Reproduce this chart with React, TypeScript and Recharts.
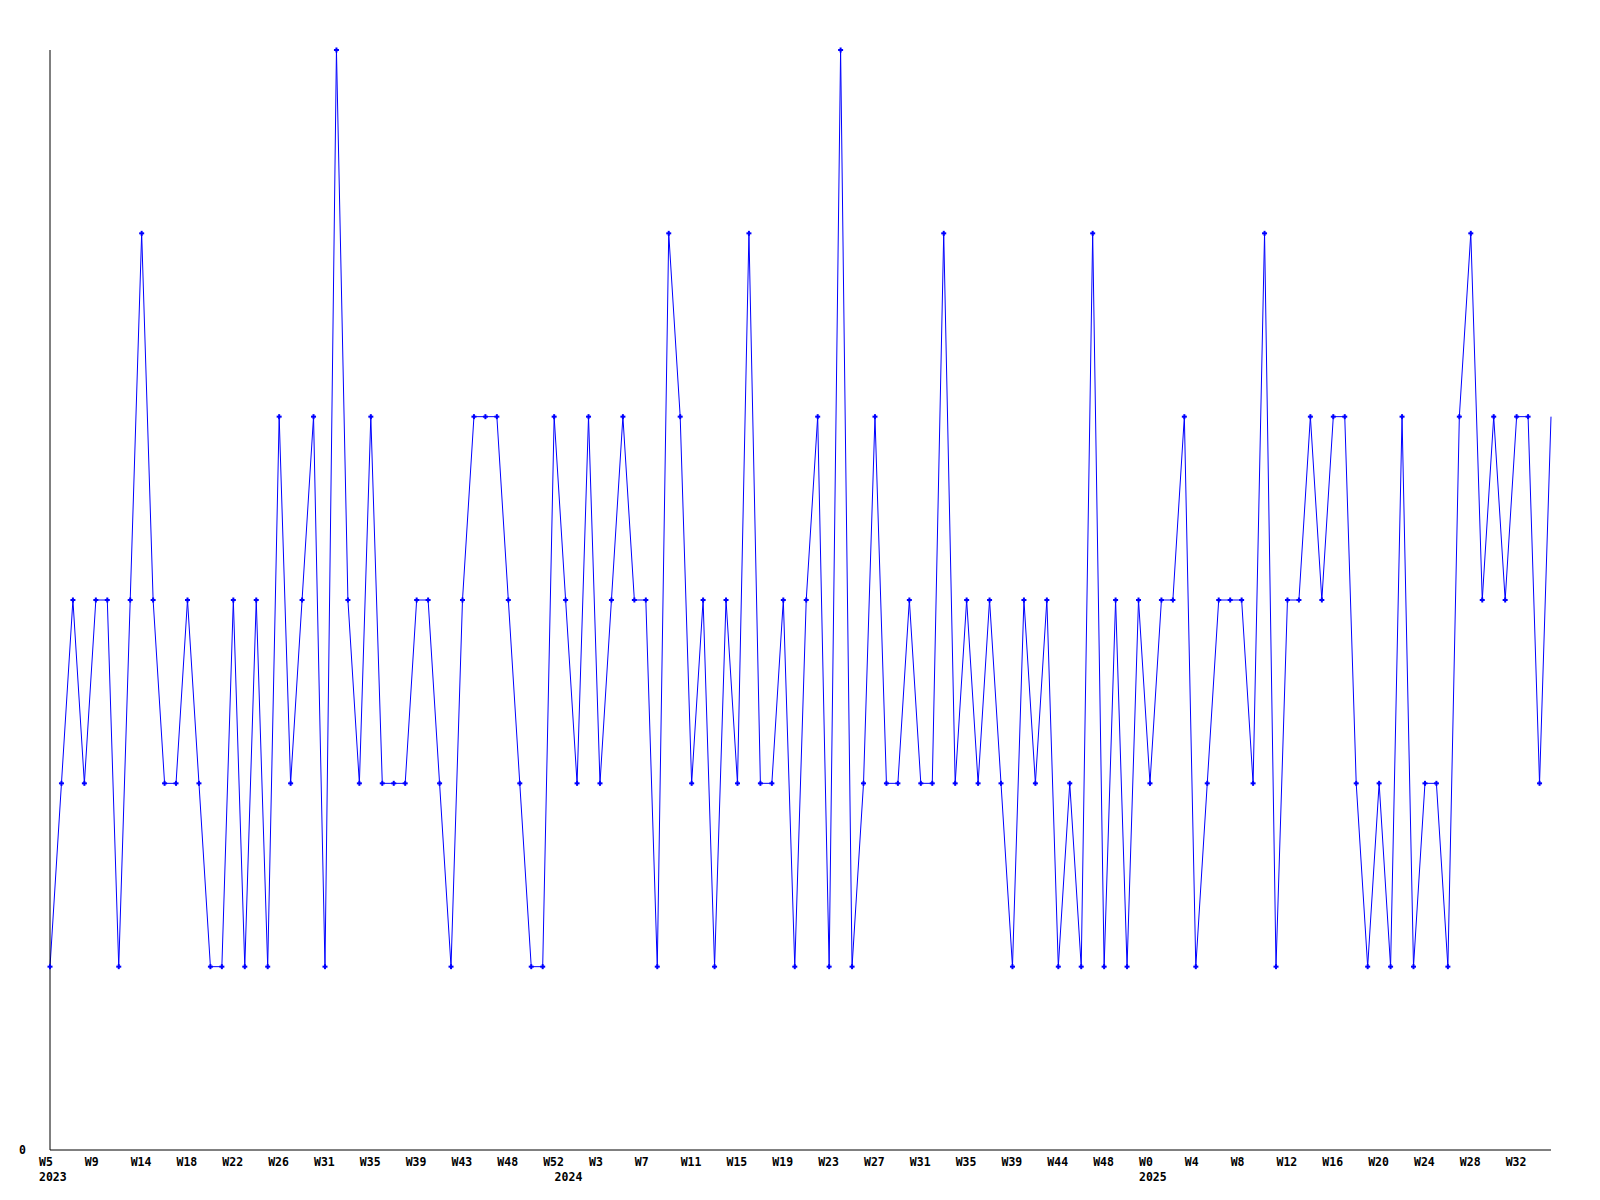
import React from 'react';
import { LineChart, Line, XAxis, YAxis } from 'recharts';

// weekly values, one per point
const values = [
  1, 2, 3, 2, 3, 3, 1, 3, 5, 3, 2, 2, 3, 2, 1, 1, 3, 1, 3, 1,
  4, 2, 3, 4, 1, 6, 3, 2, 4, 2, 2, 2, 3, 3, 2, 1, 3, 4, 4, 4,
  3, 2, 1, 1, 4, 3, 2, 4, 2, 3, 4, 3, 3, 1, 5, 4, 2, 3, 1, 3,
  2, 5, 2, 2, 3, 1, 3, 4, 1, 6, 1, 2, 4, 2, 2, 3, 2, 2, 5, 2,
  3, 2, 3, 2, 1, 3, 2, 3, 1, 2, 1, 5, 1, 3, 1, 3, 2, 3, 3, 4,
  1, 2, 3, 3, 3, 2, 5, 1, 3, 3, 4, 3, 4, 4, 2, 1, 2, 1, 4, 1,
  2, 2, 1, 4, 5, 3, 4, 3, 4, 4, 2, 4,
];

// week label on every 4th point
const weekTicks = [
  'W5', 'W9', 'W14', 'W18', 'W22', 'W26', 'W31', 'W35', 'W39', 'W43', 'W48',
  'W52', 'W3', 'W7', 'W11', 'W15', 'W19', 'W23', 'W27', 'W31', 'W35', 'W39',
  'W44', 'W48', 'W0', 'W4', 'W8', 'W12', 'W16', 'W20', 'W24', 'W28', 'W32',
];

// first point of each year
const yearStarts = [0, 45, 96];
const years = ['2023', '2024', '2025'];

const data = values.map((v, i) => ({ idx: i, value: v }));
const tickIdx = Array.from(
  new Set([...weekTicks.map((_, k) => k * 4), ...yearStarts])
).sort((a, b) => a - b);

const FONT = '"DejaVu Sans Mono", monospace';

function XTick(props: any) {
  const { x, payload } = props;
  const i = payload.value as number;
  const week = i % 4 === 0 ? weekTicks[i / 4] : undefined;
  const y = yearStarts.indexOf(i);
  return (
    <g>
      {week && (
        <text x={x - 11} y={1166} textAnchor="start" fontFamily={FONT} fontWeight="bold" fontSize={11.5} fill="#000">
          {week}
        </text>
      )}
      {y >= 0 && (
        <text x={x - 11} y={1181} textAnchor="start" fontFamily={FONT} fontWeight="bold" fontSize={11.5} fill="#000">
          {years[y]}
        </text>
      )}
    </g>
  );
}

function YTick(props: any) {
  const { y, payload } = props;
  return (
    <text x={26} y={y + 4} textAnchor="end" fontFamily={FONT} fontWeight="bold" fontSize={11.5} fill="#000">
      {payload.value}
    </text>
  );
}

// small plus-shaped marker, last point left unmarked like the original
function Marker(props: any) {
  const { cx, cy, index } = props;
  if (index === values.length - 1 || cx == null) return <g key={`d${index}`} />;
  return (
    <g key={`d${index}`} fill="#0000ff">
      <rect x={cx - 2.5} y={cy - 1} width={5} height={2} />
      <rect x={cx - 1} y={cy - 2.5} width={2} height={5} />
    </g>
  );
}

export default function App() {
  return (
    <div style={{ position: 'absolute', left: 0, top: 0, width: 1600, height: 1200, background: '#fff' }}>
      <LineChart width={1600} height={1200} data={data} margin={{ top: 50, right: 49, left: 0, bottom: 20 }}>
        <XAxis
          dataKey="idx"
          type="number"
          domain={[0, values.length - 1]}
          ticks={tickIdx}
          interval={0}
          tickLine={false}
          axisLine={{ stroke: '#000' }}
          tick={<XTick />}
          height={30}
        />
        <YAxis
          domain={[0, 6]}
          ticks={[0]}
          width={50}
          tickLine={false}
          axisLine={{ stroke: '#000' }}
          tick={<YTick />}
        />
        <Line
          type="linear"
          dataKey="value"
          stroke="#0000ff"
          strokeWidth={1}
          dot={<Marker />}
          activeDot={false}
          isAnimationActive={false}
        />
      </LineChart>
    </div>
  );
}
